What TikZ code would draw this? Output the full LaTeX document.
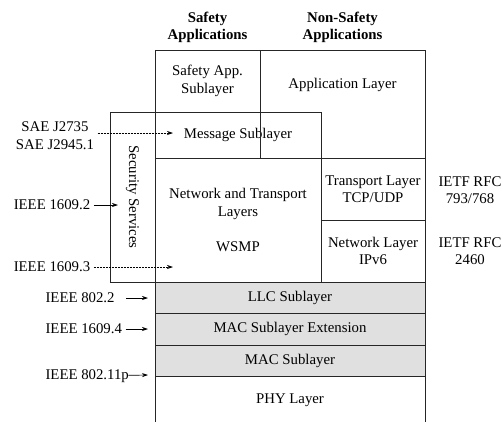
\documentclass[tikz,border=0pt]{standalone}
\usepackage{fontspec}
\setmainfont{Liberation Serif}
\usetikzlibrary{arrows.meta,positioning}

\begin{document}
\begin{tikzpicture}[x=1pt,y=-1pt,
  font=\fontsize{14.8}{17.5}\selectfont,
  >={Stealth[length=6pt,width=4pt]},
  layer/.style={draw=black!85, line width=0.8pt, outer sep=0pt, inner sep=0pt, align=center},
  band/.style={layer, fill=black!12},
  txt/.style={align=center},
  head/.style={align=center, font=\fontsize{14.8}{17.5}\selectfont\bfseries},
  ref/.style={line width=0.7pt, ->},
  dref/.style={ref, dash pattern=on 2pt off 1pt}]

\clip (0,0) rectangle (503,421);

\coordinate(O1) at (0,0);

% upper layers
\node[below right=50pt and 155pt of O1, layer, minimum width=105pt, minimum height=62pt](sa) {Safety App.\\Sublayer};
\node[below right=112pt and 155pt of O1, layer, minimum width=166pt, minimum height=46pt](ms) {Message Sublayer};
\node[below right=50pt and 260pt of O1, layer, minimum width=165pt, minimum height=108pt](al) {};
\node[txt](altext) at (342.5,85) {Application Layer};
\node[below right=112pt and 110pt of O1, layer, minimum width=45pt, minimum height=170pt](ss) {};
\node[rotate=-90](sstext) at (ss.center) {Security Services};
\node[below right=158pt and 155pt of O1, layer, minimum width=166pt, minimum height=124pt](nt) {Network and Transport\\Layers\\[18pt]WSMP};
\node[below right=158pt and 321pt of O1, layer, minimum width=104pt, minimum height=62pt](tl) {Transport Layer\\TCP/UDP};
\node[below right=220pt and 321pt of O1, layer, minimum width=104pt, minimum height=62pt](nl) {Network Layer\\IPv6};

% lower layers
\node[below right=282pt and 155pt of O1, band, minimum width=270pt, minimum height=31pt](llc) {LLC Sublayer};
\node[below right=313pt and 155pt of O1, band, minimum width=270pt, minimum height=32pt](mse) {MAC Sublayer Extension};
\node[below right=345pt and 155pt of O1, band, minimum width=270pt, minimum height=31pt](mac) {MAC Sublayer};
\node[below right=376pt and 155pt of O1, layer, minimum width=270pt, minimum height=48pt](phy) {PHY Layer};

% headers
\node[head, above=3.5pt of sa](hsafe) {Safety\\Applications};
\node[head, above=3.5pt of al](hnon) {Non-Safety\\Applications};

% standards
\node[txt](rfc1) at (470,190) {IETF RFC\\793/768};
\node[txt](rfc2) at (470,251) {IETF RFC\\2460};
\node[txt](sae) at (55,135.5) {SAE J2735\\SAE J2945.1};
\node(i16092) at (52,205) {IEEE 1609.2};
\node(i16093) at (52,267) {IEEE 1609.3};
\node[anchor=west](i8022) at (42,298) {IEEE 802.2};
\node[anchor=west](i16094) at (42,329) {IEEE 1609.4};
\node[anchor=west](i80211p) at (42,376) {IEEE 802.11p};

\coordinate(asae) at (173,133);
\coordinate(a16092) at (118,205);
\coordinate(a16093) at (173,267);
\coordinate(a8022) at (148,298);
\coordinate(a16094) at (148,329);
\coordinate(a80211p) at (148,375);

\draw[dref] (sae.east |- asae) -- (asae);
\draw[ref] (i16092) -- (a16092);
\draw[dref] (i16093) -- (a16093);
\draw[ref, shorten <=8pt] (i8022) -- (a8022);
\draw[ref] (i16094) -- (a16094);
\draw[ref, shorten <=-4pt] (i80211p) -- (a80211p);
\end{tikzpicture}
\end{document}
